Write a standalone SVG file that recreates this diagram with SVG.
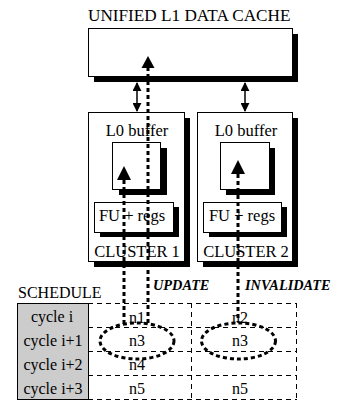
<svg xmlns="http://www.w3.org/2000/svg" width="346" height="402" viewBox="0 0 346 402">
<style>
text{font-family:'Liberation Serif',serif;font-size:16px;fill:#000}
.lbl{font-size:16.5px}
.ttl{font-size:17.2px}
.bi{font-size:14.3px;font-weight:bold;font-style:italic}
.box{fill:#fff;stroke:#000;stroke-width:1}
.sh{fill:#000}
.dot{fill:none;stroke:#000;stroke-width:3;stroke-dasharray:4 3}
.dash{fill:none;stroke:#000;stroke-width:1;stroke-dasharray:5 4}
.arr{fill:none;stroke:#000;stroke-width:1.5}
</style>
<defs>
<marker id="ah" viewBox="0 0 10 10" refX="9" refY="5" markerWidth="9" markerHeight="9" markerUnits="userSpaceOnUse" orient="auto-start-reverse">
<path d="M0,0 L10,5 L0,10 z" fill="#000"/>
</marker>
</defs>
<rect width="346" height="402" fill="#fff"/>
<g id="cache">
<rect class="sh" x="94" y="34" width="204" height="48"/>
<rect class="box" x="88.5" y="28.5" width="204" height="48"/>
<text class="ttl" x="88" y="21">UNIFIED L1 DATA CACHE</text>
</g>
<g id="cluster1">
<rect class="sh" x="94" y="118" width="96" height="149"/>
<rect class="box" x="88.5" y="112.5" width="96" height="149"/>
<text class="lbl" x="137" y="136" text-anchor="middle">L0 buffer</text>
<rect class="sh" x="119" y="148" width="48" height="47"/>
<rect class="box" x="112.5" y="142.5" width="48" height="47"/>
<rect class="sh" x="100" y="207" width="79" height="30"/>
<rect class="box" x="94.5" y="202.5" width="79" height="30"/>
<text class="lbl" x="132" y="221" text-anchor="middle">FU + regs</text>
<text class="lbl" x="137" y="257" text-anchor="middle">CLUSTER 1</text>
</g>
<g id="cluster2">
<rect class="sh" x="203" y="118" width="95" height="149"/>
<rect class="box" x="197.5" y="112.5" width="95" height="149"/>
<text class="lbl" x="246" y="136" text-anchor="middle">L0 buffer</text>
<rect class="sh" x="226" y="148" width="49" height="47"/>
<rect class="box" x="220.5" y="142.5" width="49" height="47"/>
<rect class="sh" x="209" y="207" width="78" height="30"/>
<rect class="box" x="203.5" y="202.5" width="78" height="30"/>
<text class="lbl" x="242" y="221" text-anchor="middle">FU + regs</text>
<text class="lbl" x="246" y="257" text-anchor="middle">CLUSTER 2</text>
</g>
<g id="schedule">
<text x="18" y="298">SCHEDULE</text>
<rect x="17.5" y="303.5" width="71" height="96" fill="#cccccc" stroke="#000" stroke-width="1"/>
<text x="52" y="322" text-anchor="middle">cycle i</text>
<text x="53" y="346" text-anchor="middle">cycle i+1</text>
<text x="53" y="370" text-anchor="middle">cycle i+2</text>
<text x="53" y="394" text-anchor="middle">cycle i+3</text>
<path class="dash" d="M88,303.5 H297 M88,327.5 H297 M88,351.5 H297 M88,375.5 H297 M88,399.5 H297 M191.5,303 V399 M296.5,303 V399"/>
<text x="137" y="323" text-anchor="middle">n1</text>
<text x="240" y="323" text-anchor="middle">n2</text>
<text x="137" y="346" text-anchor="middle">n3</text>
<text x="240" y="346" text-anchor="middle">n3</text>
<text x="137" y="370" text-anchor="middle">n4</text>
<text x="137" y="394" text-anchor="middle">n5</text>
<text x="240" y="394" text-anchor="middle">n5</text>
<text class="bi" x="153" y="290">UPDATE</text>
<text class="bi" x="245" y="290">INVALIDATE</text>
</g>
<g id="connectors">
<line class="arr" x1="137" y1="83" x2="137" y2="111" marker-start="url(#ah)" marker-end="url(#ah)"/>
<line class="arr" x1="245" y1="83" x2="245" y2="111" marker-start="url(#ah)" marker-end="url(#ah)"/>
<line class="dot" x1="148" y1="67" x2="148" y2="323"/>
<path d="M148,56 L154.5,68 L141.5,68 z" fill="#000"/>
<line class="dot" x1="124" y1="180" x2="124" y2="324"/>
<path d="M124,166 L131,180 L117,180 z" fill="#000"/>
<line class="dot" x1="238" y1="174" x2="238" y2="322"/>
<path d="M238,160 L245,174 L231,174 z" fill="#000"/>
<ellipse class="dot" cx="137" cy="341" rx="37" ry="18"/>
<ellipse class="dot" cx="238.5" cy="341" rx="37" ry="18"/>
</g>
</svg>
